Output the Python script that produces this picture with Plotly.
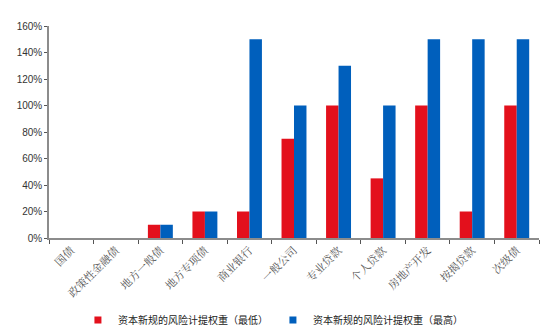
import plotly.graph_objects as go

categories = ["国债", "政策性金融债", "地方一般债", "地方专项债", "商业银行", "一般公司",
              "专业贷款", "个人贷款", "房地产开发", "按揭贷款", "次级债"]
min_weights = [0, 0, 0.10, 0.20, 0.20, 0.75, 1.00, 0.45, 1.00, 0.20, 1.00]
max_weights = [0, 0, 0.10, 0.20, 1.50, 1.00, 1.30, 1.00, 1.50, 1.50, 1.50]
series_names = ["资本新规的风险计提权重（最低）", "资本新规的风险计提权重（最高）"]
colors = ["#E3101C", "#005FBC"]
y_ticks = [0, 0.2, 0.4, 0.6, 0.8, 1.0, 1.2, 1.4, 1.6]

fig = go.Figure()
for vals, name, col in zip([min_weights, max_weights], series_names, colors):
    fig.add_trace(go.Bar(x=categories, y=vals, name=name, showlegend=False,
                         marker=dict(color=col, line=dict(width=0))))
for name, col in zip(series_names, colors):
    fig.add_trace(go.Scatter(x=[None], y=[None], mode="markers", name=name,
                             marker=dict(symbol="square", size=7, color=col)))

fig.update_layout(
    width=550, height=335,
    margin=dict(l=49, r=11, t=26, b=97, autoexpand=False),
    paper_bgcolor="white", plot_bgcolor="white",
    barmode="group", bargap=0.44, bargroupgap=0,
    font=dict(family="Liberation Sans, Arial, sans-serif", size=10, color="#333333"),
    legend=dict(orientation="h", x=0.457, xanchor="center", y=0.045, yanchor="middle",
                yref="container",
                font=dict(family="Noto Sans CJK SC", size=10, color="#222222"),
                itemwidth=30, traceorder="normal"),
    showlegend=True,
)
fig.update_xaxes(
    type="category", showline=True, linecolor="#8C8C8C", linewidth=1.5,
    ticks="outside", tickson="boundaries", ticklen=4, tickcolor="#555555",
    tickangle=-45, showgrid=False, automargin=False,
    tickfont=dict(family="Noto Serif CJK SC, Noto Sans CJK SC", size=11, color="#555555"),
)
fig.update_yaxes(
    range=[0, 1.6], tickvals=y_ticks, tickformat=".0%",
    showline=True, linecolor="#8C8C8C", linewidth=1.5,
    ticks="outside", ticklen=3, tickcolor="#555555",
    showgrid=False, zeroline=False, automargin=False,
    tickfont=dict(family="Liberation Sans", size=10, color="#333333"),
)

fig.write_html("out.html")
